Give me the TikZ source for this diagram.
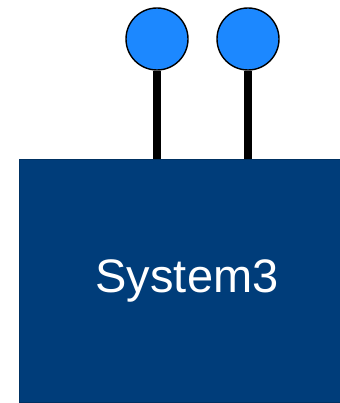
\documentclass[tikz,border=0pt]{standalone}
\usepackage{fontspec}
\setmainfont{Liberation Sans}
\usetikzlibrary{positioning}
\definecolor{SysBlue}{RGB}{0,61,122}
\definecolor{PortBlue}{RGB}{28,136,255}

\begin{document}
\begin{tikzpicture}[x=1pt, y=-1pt, every node/.style={inner sep=0pt}]
            \useasboundingbox (0,0) rectangle (339,403);
            % Box
            \node[draw=SysBlue!80!black, line width=0.8pt, rectangle, fill=SysBlue, text=white, minimum width=336pt, minimum height=243pt, font=\fontsize{47}{56}\selectfont] (system) at (187,280.5) {System3};
            
            % Ports
            \node[draw, circle, fill=PortBlue, line width=1.4pt, minimum size=62pt] (portA) at (157,39) {};
            
            \node[draw, circle, fill=PortBlue, line width=1.4pt, minimum size=62pt] (portB) at (248,39) {};
            
            % Stems
            \draw[line width=7.5pt] (portA.south) -- (portA.south |- system.north);
            \draw[line width=7.5pt] (portB.south) -- (portB.south |- system.north);
        \end{tikzpicture}
\end{document}
